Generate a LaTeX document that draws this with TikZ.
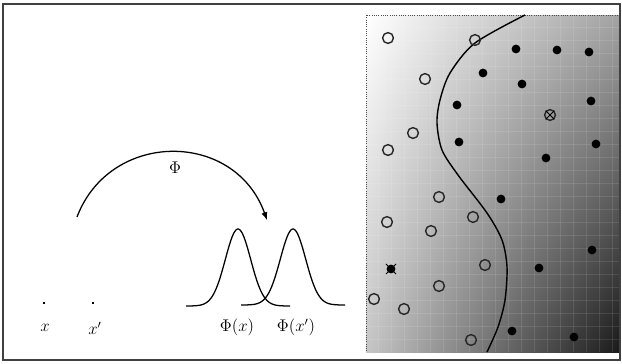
\documentclass[tikz,border=0pt]{standalone}
\usetikzlibrary{positioning,shadings,calc}
\tikzset{
	pt/.style={fill, inner sep=0pt, minimum size=0.07cm},
	opendot/.style={circle, draw=black!85, line width=1pt, inner sep=0pt, minimum size=0.27cm},
	fulldot/.style={circle, fill=black, inner sep=0pt, minimum size=0.22cm},
}
\begin{document}
\begin{tikzpicture}[x=0.025cm, y=-0.025cm, line width=0.9pt, font=\large]
	\useasboundingbox (0,0) rectangle (622,363);
	\fill[white] (0,0) rectangle (622,363);
	% input space
	\node[pt] (px) at (44,303) {};
	\node[pt] (pxp) at (93,303) {};
	\node (lx) at (45,328) {$x$};
	\node (lxp) at (95,328) {$x'$};
	\coordinate (phistart) at (77,217);
	\coordinate (phiend) at (267,220);
	\draw[-latex] (phistart) .. controls (110,130) and (235,130) .. (phiend);
	\node (phi) at (175,168) {$\Phi$};
	% feature space
	\draw plot[domain=-52:52, samples=80] ({238+\x}, {306-77*exp(-(\x*\x)/(2*160))});
	\draw plot[domain=-52:52, samples=80] ({293+\x}, {305-76*exp(-(\x*\x)/(2*160))});
	\node (phix) at (237,327) {$\Phi(x)$};
	\node (phixp) at (296,327) {$\Phi(x')$};
	% classifier
	\shade[upper left=white, upper right=gray!72, lower left=gray!45, lower right=black!90]
		(366,15) rectangle (620,352);
	\begin{scope}
		\clip (366,15) rectangle (620,352);
		\foreach \gx in {378,391,404,417,430,443,456,469,482,495,508,521,534,547,560,573,586,599,612}
			\draw[white, opacity=0.1, line width=0.5pt] (\gx,15) -- (\gx,352);
		\foreach \gy in {27,40,53,66,79,92,105,118,131,144,157,170,183,196,209,222,235,248,261,274,287,300,313,326,339}
			\draw[white, opacity=0.1, line width=0.5pt] (366,\gy) -- (620,\gy);
	\end{scope}
	\draw[densely dotted, black!70, line width=0.6pt] (620,15) -- (366,15) -- (366,352);
	\draw[line width=1pt] plot[smooth] coordinates {(525,15) (475,43) (450,73) (440,100) (437,123) (442,150) (458,175) (487,213) (502,240) (507,267) (505,300) (498,327) (487,352)};
	\foreach \p [count=\i] in {(388,38),(475,40),(425,79),(413,133),(388,150),(439,197),(473,217),(387,222),(431,231),(485,265),(439,286),(374,299),(404,309),(471,340)}
		\node[opendot] (o\i) at \p {};
	\foreach \p [count=\i] in {(516,49),(557,50),(589,52),(483,73),(522,84),(457,105),(591,101),(459,142),(596,144),(546,158),(501,199),(592,250),(539,268),(512,331),(574,337)}
		\node[fulldot] (f\i) at \p {};
	\node[fulldot] (fx) at (391,269) {};
	\draw[line width=0.7pt] ($(fx.north west)+(-1.5,-1.5)$) -- ($(fx.south east)+(1.5,1.5)$)
		($(fx.north east)+(1.5,-1.5)$) -- ($(fx.south west)+(-1.5,1.5)$);
	\node[opendot] (ox) at (550,115) {};
	\draw[line width=0.6pt] (ox.north west) -- (ox.south east) (ox.north east) -- (ox.south west);
	% frame
	\draw[black!75, line width=1.4pt] (3,4) rectangle (620,360);
\end{tikzpicture}
\end{document}
